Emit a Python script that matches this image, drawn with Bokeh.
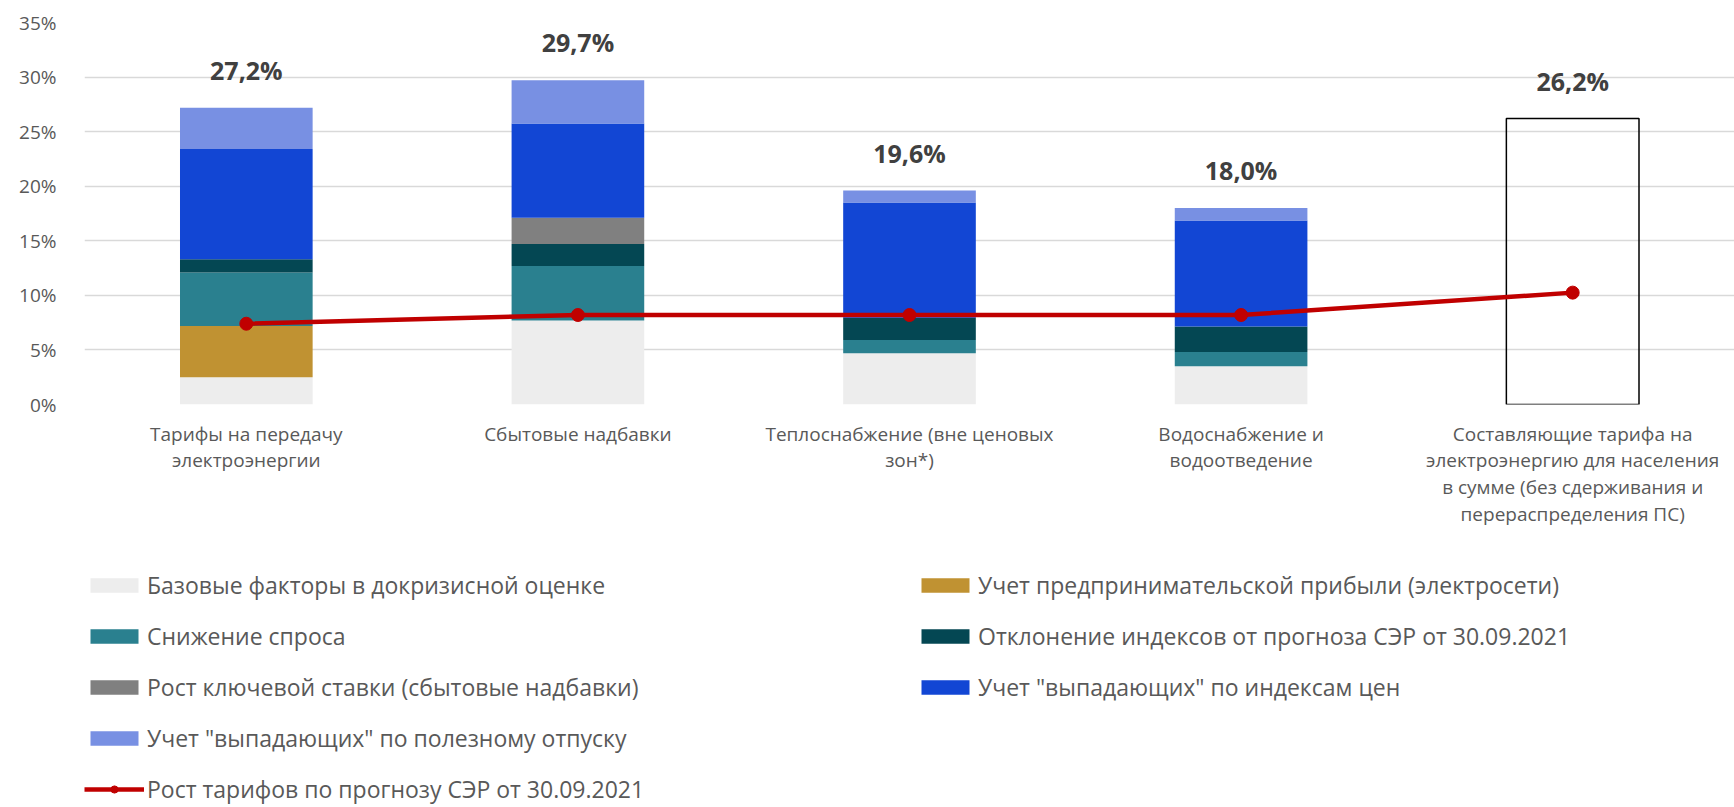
from bokeh.plotting import figure
from bokeh.layouts import column
from bokeh.models import (ColumnDataSource, FactorRange, Range1d, FixedTicker,
                          Legend, LegendItem)
from bokeh.core.properties import value
from bokeh.embed import file_html
from bokeh.resources import INLINE

# ---------------- data ----------------
categories = [
    "Тарифы на передачу\nэлектроэнергии",
    "Сбытовые надбавки",
    "Теплоснабжение (вне ценовых\nзон*)",
    "Водоснабжение и\nводоотведение",
    "Составляющие тарифа на\nэлектроэнергию для населения\nв сумме (без сдерживания и\nперераспределения ПС)",
]
base_factors   = [2.5, 7.7, 4.7, 3.5, 0.0]
profit_grid    = [4.7, 0.0, 0.0, 0.0, 0.0]
demand_drop    = [4.9, 5.0, 1.2, 1.3, 0.0]
index_dev      = [1.2, 2.0, 2.05, 2.35, 0.0]
key_rate       = [0.0, 2.4, 0.0, 0.0, 0.0]
lost_price_idx = [10.1, 8.65, 10.55, 9.7, 0.0]
lost_supply    = [3.8, 3.95, 1.1, 1.15, 0.0]
totals         = [27.2, 29.7, 19.6, 18.0, 26.2]
forecast_growth = [7.4, 8.2, 8.2, 8.2, 10.25]
y_ticks = [0, 5, 10, 15, 20, 25, 30, 35]

series_names = [
    "Базовые факторы в докризисной оценке",
    "Учет предпринимательской прибыли (электросети)",
    "Снижение спроса",
    "Отклонение индексов от прогноза СЭР от 30.09.2021",
    "Рост ключевой ставки (сбытовые надбавки)",
    "Учет \"выпадающих\" по индексам цен",
    "Учет \"выпадающих\" по полезному отпуску",
]
line_name = "Рост тарифов по прогнозу СЭР от 30.09.2021"
colors = ["#ededed", "#c09232", "#2a808f", "#044753", "#808080", "#1246d4", "#7890e3"]
line_color = "#c00000"

keys = ["base", "profit", "demand", "dev", "rate", "lost_idx", "lost_sup"]
data = dict(cat=categories, base=base_factors, profit=profit_grid, demand=demand_drop,
            dev=index_dev, rate=key_rate, lost_idx=lost_price_idx, lost_sup=lost_supply,
            total=totals, forecast=forecast_growth,
            label=[f"{v:.1f}".replace(".", ",") + "%" for v in totals])
source = ColumnDataSource(data)
box_source = ColumnDataSource(dict(cat=categories[-1:], total=totals[-1:]))

FONT = "Open Sans"
TXT = "#595959"

# ---------------- main chart ----------------
p = figure(x_range=FactorRange(factors=categories, range_padding=-0.012,
                               range_padding_units="absolute"),
           y_range=Range1d(0, 35),
           width=1734, height=550, output_backend="svg", toolbar_location=None,
           min_border_left=78, min_border_right=0, min_border_top=22, min_border_bottom=146)
p.outline_line_color = None
p.background_fill_color = "white"
p.border_fill_color = "white"

p.xgrid.grid_line_color = None
p.ygrid.grid_line_color = "#d9d9d9"
p.ygrid.grid_line_width = 1.3

p.yaxis.ticker = FixedTicker(ticks=y_ticks)
p.yaxis.major_label_overrides = {t: f"{t}%" for t in y_ticks}
for ax in (p.xaxis, p.yaxis):
    ax.axis_line_color = None
    ax.major_tick_line_color = None
    ax.minor_tick_line_color = None
    ax.major_label_text_font = FONT
    ax.major_label_text_font_size = "19px"
    ax.major_label_text_color = TXT
p.yaxis.major_label_standoff = 22
p.xaxis.major_label_standoff = 10
p.xaxis.major_label_text_line_height = 1.03

p.vbar_stack(keys, x="cat", width=0.4, color=colors, line_color=None, source=source)
p.vbar(x="cat", top="total", width=0.4, fill_color=None, line_color="black",
       line_width=1.5, source=box_source)

p.line(x="cat", y="forecast", color=line_color, line_width=4.5, source=source)
p.scatter(x="cat", y="forecast", color=line_color, size=13, source=source)

p.text(x="cat", y="total", text="label", source=source, y_offset=-38,
       text_font=value(FONT), text_font_style="bold", text_font_size="25px",
       text_color="#404040", text_align="center", text_baseline="middle")

# ---------------- legend strip ----------------
lg = figure(width=1734, height=257, output_backend="svg", toolbar_location=None,
            x_range=Range1d(0, 1), y_range=Range1d(0, 1),
            x_axis_type=None, y_axis_type=None,
            min_border_left=84, min_border_right=0, min_border_top=19, min_border_bottom=0)
lg.outline_line_color = None
lg.grid.grid_line_color = None
lg.background_fill_color = "white"
lg.border_fill_color = "white"

# proxies kept outside the visible range, only used to draw the legend swatches
proxy = ColumnDataSource(dict(x=[-5.0], y=[-5.0]))
swatches = [lg.vbar(x="x", top="y", width=0.1, fill_color=c, line_color=None, source=proxy)
            for c in colors]
ln = lg.line(x="x", y="y", color=line_color, line_width=4.5, source=proxy)
sc = lg.scatter(x="x", y="y", color=line_color, size=13, source=proxy)

items = [LegendItem(label=n, renderers=[r]) for n, r in zip(series_names, swatches)]
line_item = LegendItem(label=line_name, renderers=[ln, sc])
# column-major order: left column then right column
ordered = [items[0], items[2], items[4], items[6], line_item, items[1], items[3], items[5]]
legend = Legend(items=ordered, location="top_left", orientation="vertical", nrows=5,
                glyph_width=60, glyph_height=18, label_standoff=3, label_width=749,
                spacing=19, padding=0, margin=0, border_line_color=None,
                background_fill_alpha=0,
                label_text_font=FONT, label_text_font_size="23px", label_text_color=TXT)
lg.add_layout(legend, "center")

layout = column(p, lg, spacing=0)
open("out.html", "w").write(file_html(layout, INLINE))
